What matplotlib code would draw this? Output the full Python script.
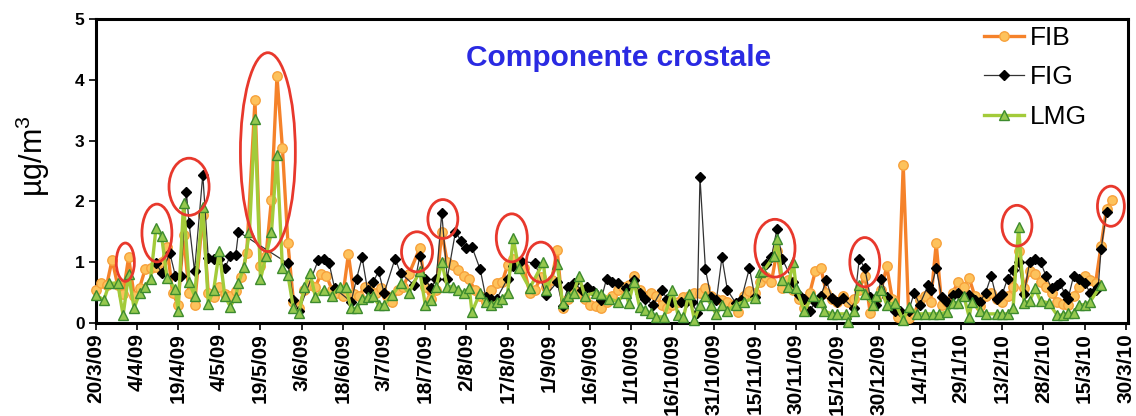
import numpy as np
import matplotlib
matplotlib.use("Agg")
import matplotlib.pyplot as plt
from matplotlib.patches import Ellipse

# Sampling days are counted from 20/3/2009
tick_labels = ["20/3/09", "4/4/09", "19/4/09", "4/5/09", "19/5/09", "3/6/09",
               "18/6/09", "3/7/09", "18/7/09", "2/8/09", "17/8/09", "1/9/09",
               "16/9/09", "1/10/09", "16/10/09", "31/10/09", "15/11/09",
               "30/11/09", "15/12/09", "30/12/09", "14/1/10", "29/1/10",
               "13/2/10", "28/2/10", "15/3/10", "30/3/10"]
tick_step_days = 15

fib_day = [0, 2, 4, 6, 8, 10, 12, 14, 16, 18, 20, 22, 24, 26, 28, 30, 32, 34, 36, 39,
           41, 43, 45, 47, 49, 51, 53, 55, 58, 60, 62, 64, 66, 68, 70, 72, 74, 76, 78, 80,
           82, 84, 86, 88, 90, 92, 94, 96, 98, 100, 102, 104, 106, 108, 110, 112, 114, 118,
           120, 122, 124, 126, 128, 130, 132, 134, 136, 138, 140, 142, 144, 146, 148, 150,
           152, 154, 156, 158, 160, 162, 164, 166, 168, 170, 172, 174, 176, 178, 180, 182,
           184, 186, 188, 190, 192, 194, 196, 198, 200, 202, 204, 206, 208, 210, 212, 214,
           216, 218, 220, 222, 224, 226, 228, 230, 232, 234, 236, 238, 240, 242, 244, 246,
           248, 250, 252, 254, 256, 258, 260, 262, 264, 266, 268, 270, 272, 274, 276, 278,
           280, 282, 284, 286, 288, 290, 292, 294, 296, 298, 300, 302, 304, 306, 308, 310,
           312, 314, 316, 318, 320, 322, 324, 326, 328, 330, 332, 334, 336, 338, 340, 342,
           344, 346, 348, 350, 352, 354, 356, 358, 360, 362, 364, 366, 368, 370]
fib_val = [0.54, 0.65, 0.62, 1.04, 0.62, 0.48, 1.08, 0.45, 0.58, 0.88, 0.90, 0.92, 1.00,
           1.25, 0.50, 0.30, 1.44, 0.50, 0.30, 1.77, 0.50, 0.42, 0.60, 0.48, 0.45, 0.52,
           0.75, 1.15, 3.66, 0.94, 1.10, 2.03, 4.06, 2.87, 1.31, 0.35, 0.25, 0.55, 0.62,
           0.60, 0.80, 0.78, 0.55, 0.50, 0.45, 1.13, 0.48, 0.45, 0.60, 0.55, 0.50, 0.58,
           0.45, 0.35, 0.55, 0.60, 0.80, 1.23, 0.60, 0.40, 0.55, 1.50, 1.00, 0.95, 0.87,
           0.78, 0.72, 0.54, 0.45, 0.35, 0.55, 0.65, 0.68, 0.95, 1.05, 1.00, 0.90, 0.50,
           0.55, 0.75, 0.60, 0.70, 1.20, 0.24, 0.40, 0.55, 0.50, 0.40, 0.30, 0.28, 0.24,
           0.35, 0.45, 0.55, 0.60, 0.62, 0.77, 0.55, 0.45, 0.49, 0.45, 0.30, 0.25, 0.30,
           0.35, 0.42, 0.45, 0.50, 0.50, 0.57, 0.45, 0.40, 0.38, 0.35, 0.30, 0.18, 0.45,
           0.52, 0.50, 0.67, 0.75, 0.67, 1.18, 0.58, 0.70, 0.55, 0.40, 0.24, 0.50, 0.85,
           0.90, 0.50, 0.40, 0.35, 0.45, 0.35, 0.40, 0.55, 0.78, 0.16, 0.40, 0.55, 0.93,
           0.40, 0.10, 2.60, 0.08, 0.15, 0.38, 0.45, 0.35, 1.31, 0.30, 0.35, 0.50, 0.67,
           0.60, 0.74, 0.45, 0.28, 0.45, 0.50, 0.40, 0.35, 0.45, 0.60, 1.18, 0.57, 0.86,
           0.80, 0.67, 0.60, 0.50, 0.35, 0.32, 0.30, 0.45, 0.60, 0.78, 0.70, 0.65, 1.27,
           1.88, 2.03]

fig_day = [22, 24, 27, 29, 31, 33, 34, 36, 39, 41, 43, 45, 47, 49, 51, 52, 70, 72, 74,
           81, 83, 85, 87, 93, 95, 97, 99, 101, 103, 105, 109, 111, 116, 118, 120, 122,
           124, 126, 128, 131, 133, 135, 137, 140, 142, 144, 146, 150, 152, 155, 160, 164,
           168, 170, 172, 174, 177, 179, 181, 184, 186, 188, 190, 193, 196, 198, 200, 203,
           206, 208, 210, 213, 215, 217, 219, 220, 222, 224, 226, 228, 230, 233, 235, 238,
           240, 244, 246, 248, 250, 254, 256, 258, 260, 262, 264, 266, 268, 270, 272, 276,
           278, 280, 282, 284, 286, 288, 291, 293, 296, 298, 300, 303, 304, 306, 308, 310,
           312, 314, 318, 320, 322, 324, 326, 328, 330, 332, 334, 336, 338, 340, 342, 344,
           346, 348, 350, 351, 353, 354, 356, 358, 360, 362, 364, 365, 366, 368]
fig_val = [0.98, 0.83, 1.15, 0.78, 0.78, 2.16, 1.65, 0.85, 2.44, 1.07, 1.06, 1.05, 0.90,
           1.10, 1.12, 1.50, 0.98, 0.37, 0.20, 1.03, 1.05, 0.98, 0.57, 0.35, 0.73, 1.08,
           0.54, 0.67, 0.85, 0.49, 1.06, 0.82, 0.62, 1.10, 0.72, 0.57, 0.72, 1.81, 0.73,
           1.50, 1.35, 1.23, 1.25, 0.88, 0.43, 0.40, 0.40, 0.73, 0.93, 1.02, 0.98, 0.46,
           0.67, 0.28, 0.60, 0.65, 0.55, 0.60, 0.53, 0.38, 0.73, 0.67, 0.65, 0.57, 0.70,
           0.50, 0.40, 0.30, 0.54, 0.40, 0.35, 0.35, 0.35, 0.35, 0.17, 2.40, 0.88, 0.43,
           0.38, 1.08, 0.54, 0.33, 0.38, 0.90, 0.43, 0.97, 1.08, 1.54, 1.05, 0.67, 0.46,
           0.40, 0.20, 0.35, 0.45, 0.70, 0.41, 0.35, 0.41, 0.24, 1.06, 0.90, 0.43, 0.30,
           0.73, 0.43, 0.20, 0.20, 0.20, 0.50, 0.30, 0.62, 0.55, 0.90, 0.43, 0.35, 0.46,
           0.50, 0.46, 0.38, 0.35, 0.50, 0.77, 0.40, 0.47, 0.73, 0.87, 1.00, 0.48, 1.00,
           1.06, 1.00, 0.77, 0.57, 0.62, 0.65, 0.47, 0.40, 0.77, 0.73, 0.66, 0.50, 0.55,
           0.60, 1.21, 1.82]

lmg_day = [0, 3, 5, 8, 10, 12, 14, 16, 18, 20, 22, 24, 26, 29, 30, 32, 34, 36, 39, 41,
           43, 45, 47, 49, 51, 52, 54, 56, 58, 60, 62, 64, 66, 68, 70, 72, 74, 76, 78, 80,
           83, 86, 89, 91, 93, 95, 97, 99, 101, 103, 105, 108, 111, 114, 118, 120, 122,
           124, 126, 128, 130, 132, 134, 136, 137, 140, 142, 144, 146, 148, 150, 152, 154,
           158, 163, 164, 168, 170, 172, 174, 176, 178, 182, 184, 187, 190, 193, 194, 196,
           198, 200, 202, 204, 207, 210, 212, 214, 216, 218, 220, 222, 224, 226, 228, 230,
           233, 236, 240, 242, 243, 247, 248, 250, 252, 254, 255, 258, 261, 264, 265, 268,
           270, 273, 274, 276, 278, 280, 283, 284, 286, 288, 291, 294, 296, 299, 302, 305,
           307, 310, 312, 314, 316, 318, 319, 322, 324, 328, 330, 332, 334, 336, 338, 340,
           342, 344, 347, 350, 352, 354, 356, 358, 360, 362, 366]
lmg_val = [0.46, 0.38, 0.65, 0.66, 0.13, 0.80, 0.24, 0.50, 0.60, 0.73, 1.57, 1.43, 0.74,
           0.56, 0.20, 1.97, 0.67, 0.45, 1.90, 0.32, 0.55, 1.18, 0.45, 0.27, 0.43, 0.66,
           0.92, 1.50, 3.35, 0.72, 1.10, 1.49, 2.76, 0.90, 0.79, 0.24, 0.17, 0.59, 0.83,
           0.43, 0.55, 0.45, 0.60, 0.60, 0.24, 0.24, 0.40, 0.43, 0.45, 0.30, 0.30, 0.46,
           0.65, 0.50, 0.85, 0.30, 0.37, 0.60, 1.00, 0.60, 0.60, 0.55, 0.49, 0.57, 0.18,
           0.50, 0.35, 0.30, 0.35, 0.40, 0.50, 1.40, 0.90, 0.57, 1.00, 0.55, 0.97, 0.33,
           0.45, 0.50, 0.77, 0.45, 0.50, 0.48, 0.40, 0.35, 0.50, 0.33, 0.68, 0.27, 0.22,
           0.16, 0.10, 0.10, 0.54, 0.13, 0.10, 0.48, 0.05, 0.30, 0.45, 0.30, 0.14, 0.30,
           0.20, 0.30, 0.35, 0.41, 0.84, 0.85, 1.10, 1.38, 0.70, 0.60, 1.00, 0.58, 0.20,
           0.45, 0.35, 0.20, 0.15, 0.15, 0.15, 0.02, 0.20, 0.62, 0.47, 0.30, 0.45, 0.55,
           0.30, 0.33, 0.05, 0.27, 0.15, 0.15, 0.15, 0.15, 0.18, 0.33, 0.33, 0.45, 0.10,
           0.35, 0.20, 0.15, 0.15, 0.15, 0.15, 0.25, 1.58, 0.33, 0.36, 0.57, 0.36, 0.33,
           0.13, 0.13, 0.16, 0.16, 0.30, 0.30, 0.35, 0.62]

# Highlighted episodes: (centre day, centre value, width in days, height in µg/m3)
highlight_day = [10.8, 22.3, 34.0, 62.7, 117.0, 126.4, 151.5, 162.1, 247.3, 280.0, 335.4, 369.6]
highlight_val = [1.00, 1.48, 2.24, 2.81, 1.17, 1.71, 1.40, 1.00, 1.23, 1.00, 1.60, 1.92]
highlight_w = [6.6, 10.9, 14.6, 20.0, 11.3, 10.9, 11.3, 10.6, 14.6, 10.9, 10.9, 9.8]
highlight_h = [0.63, 0.95, 0.94, 3.27, 0.66, 0.64, 0.79, 0.66, 0.95, 0.81, 0.67, 0.66]

plt.rcParams['font.family'] = ['Liberation Sans', 'DejaVu Sans']
plt.rcParams['mathtext.fontset'] = 'custom'
plt.rcParams['mathtext.rm'] = 'Liberation Sans'
plt.rcParams['mathtext.it'] = 'Liberation Sans'
plt.rcParams['mathtext.default'] = 'regular'

fig = plt.figure(figsize=(11.36, 4.16), dpi=100)
ax = fig.add_axes([0.0842, 0.2236, 0.9087, 0.7308])

ax.plot(fib_day, fib_val, color='#F5822A', lw=2.4, marker='o', ms=6.8,
        mfc='#FDC25C', mec='#F7A23C', mew=1.0, label='FIB', clip_on=False, zorder=3)
ax.plot(fig_day, fig_val, color='#333333', lw=0.9, marker='D', ms=5.2,
        mfc='black', mec='black', label='FIG', clip_on=False, zorder=4)
ax.plot(lmg_day, lmg_val, color='#A3CB3A', lw=2.4, marker='^', ms=7.5,
        mfc='#95C84E', mec='#3D8B2E', mew=1.0, label='LMG', clip_on=False, zorder=5)

for d, v, w, h in zip(highlight_day, highlight_val, highlight_w, highlight_h):
    ax.add_patch(Ellipse((d, v), w, h, fill=False, edgecolor='#E8382C', lw=2.0, zorder=6))

ax.set_xlim(0, 375.8)
ax.set_ylim(0, 5)
ax.set_xticks(np.arange(len(tick_labels)) * tick_step_days)
ax.set_xticklabels(tick_labels, rotation=90, fontsize=15, fontweight='bold')
ax.set_yticks(range(0, 6))
ax.set_yticklabels([str(v) for v in range(0, 6)], fontsize=12.5, fontweight='bold')
ax.tick_params(axis='both', direction='out', length=5, width=1.2, color='black')
ax.tick_params(axis='x', pad=2.5)
ax.tick_params(axis='y', pad=3)
for s in ax.spines.values():
    s.set_linewidth(2.2)
    s.set_color('black')

ax.set_ylabel('µg/m$^3$', fontsize=22)
ax.yaxis.set_label_coords(-0.042, 0.55)

ax.text(0.507, 0.872, 'Componente crostale', transform=ax.transAxes, ha='center',
        va='center', color='#2A2AE2', fontsize=21.5, fontweight='bold')

leg = ax.legend(loc='upper left', bbox_to_anchor=(0.858, 0.985), frameon=False,
                fontsize=19, handlelength=1.5, handletextpad=0.25, labelspacing=0.58,
                borderpad=0.1, borderaxespad=0.0)

fig.savefig('out.png', dpi=100)
